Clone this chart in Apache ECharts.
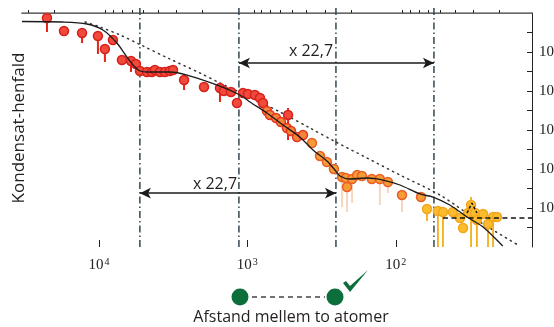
<!DOCTYPE html>
<html><head><meta charset="utf-8">
<script src="https://cdn.jsdelivr.net/npm/echarts@6/dist/echarts.min.js"></script>
<style>html,body{margin:0;padding:0;background:#fff}#c{width:554px;height:327px}</style>
</head><body><div id="c"></div>
<script>
// ---------- data (distance between atoms on reversed log x, condensate decay on log y) ----------
const distRange = [12.08, 33000];
const decayRange = [1e-6, 1];
const xMajorExp = [2, 3, 4];
const yMajorExp = [-5, -4, -3, -2, -1];

const redDist  = [22400,17200,13000,10160,9120,8050,7000,6080,5640,5290,4750,4400,4200,3880,3590,3330,3170,2670,1960,1530,1440,1290,1175,1070,991,889,822,785,532];
const redDecay = [0.744,0.345,0.307,0.257,0.119,0.203,0.0624,0.0588,0.0492,0.0326,0.0307,0.0307,0.0345,0.0307,0.0307,0.0326,0.0345,0.0191,0.01267,0.01194,0.01,0.00942,0.00492,0.00889,0.00838,0.00789,0.00662,0.00492,0.00243];

const redOrangeDist  = [738,705,641,594,541,508,463,422];
const redOrangeDecay = [0.00307,0.00243,0.00203,0.0016,0.00112,0.000942,0.000662,0.000745];

const orangeDist  = [367,324,291,261,230,217,213,197,182,169,145,128,113,90.8,67.6];
const orangeDecay = [0.000464,0.000215,0.000151,0.0001,6.24e-5,5.87e-5,3.45e-5,5.54e-5,7.0e-5,6.62e-5,5.54e-5,5.54e-5,4.64e-5,2.15e-5,1.91e-5];

const yellowDist  = [61.6,52.0,48.1,41.2,36.9,35.2,32.6,31.1,29.2,28.4,25.8,23.9,22.1,20.8];
const yellowDecay = [9.42e-6,8.38e-6,7.89e-6,7.89e-6,5.54e-6,3.07e-6,7.44e-6,1.19e-5,7.44e-6,4.92e-6,7.01e-6,3.89e-6,5.88e-6,5.88e-6];

const redErrDist = [22400,13000,10160,9120,8050,6080,2670,1530,532];
const redErrLow  = [0.326,0.170,0.0889,0.0554,0.151,0.0307,0.0106,0.00522,0.000554];
const redErrHigh = [0.744,0.307,0.257,0.119,0.203,0.0745,0.0191,0.016,0.00366];

const paleErrDist = [230,213,197,128,113,90.8];
const paleErrLow  = [1.06e-5,7.9e-6,1.34e-5,1.19e-5,2.43e-5,7.9e-6];
const paleErrHigh = [6.24e-5,3.45e-5,5.54e-5,5.54e-5,4.64e-5,2.15e-5];

const yellowErrDist = [61.6,52.0,48.1,31.1,28.4,23.9,22.1];
const yellowErrLow  = [4.64e-6,1e-6,1e-6,1e-6,1e-6,1e-6,1e-6];
const yellowErrHigh = [9.42e-6,8.38e-6,7.89e-6,1.91e-5,4.92e-6,3.89e-6,5.88e-6];

const fitDist  = [33000,17500,12050,9400,7570,6480,5720,5290,4750,3330,2550,1530,1120,960,738,575,443,361,291,257,238,204,156,122,93.7,68.7,56.1,43.2,33.1,25.8,19.0];
const fitDecay = [0.605,0.588,0.522,0.366,0.170,0.0745,0.0412,0.0326,0.0307,0.0307,0.0257,0.0134,0.00789,0.00522,0.00273,0.00134,0.000662,0.000307,0.00016,9.42e-5,6.62e-5,5.54e-5,5.87e-5,5.22e-5,3.89e-5,2.29e-5,1.91e-5,1.19e-5,5.88e-6,3.26e-6,1.06e-6];

const powDist  = [12400,9840,7210,5210,3330,2090,1530,960,603,378,253,156,93.7,50.4,27.1,14.6];
const powDecay = [0.588,0.438,0.273,0.151,0.0662,0.029,0.016,0.00702,0.0029,0.00112,0.000492,0.000191,7.0e-5,2.15e-5,4.38e-6,1.06e-6];

const noiseDist = [48.1, 12.08];
const noiseDecay = [5.54e-6, 5.54e-6];
const peakDist = [33.1, 30.7, 28.4];
const peakDecay = [7.44e-6, 1.34e-5, 7.44e-6];

const markerDist = [5300, 1140, 253, 55.3];
const markerSpan = [1e-6, 1.34];
const arrowUpper = {from: 1140, to: 55.3, decay: 0.0522};
const arrowLower = {from: 5300, to: 253, decay: 2.4e-5};
const ratioLabel = 'x 22,7';

// ---------- build ----------
const L = Math.log10;
const pairs = (xs, ys) => xs.map((x, i) => [L(x), L(ys[i])]);
const errs = (xs, lo, hi) => xs.map((x, i) => [L(x), L(lo[i]), L(hi[i])]);

const minorTicks = [];
for (let d = 1; d <= 4; d++) for (let m = 2; m <= 9; m++) {
  const v = L(m) + d;
  if (v > L(distRange[0]) && v < L(distRange[1])) minorTicks.push(v);
}
const yTicks = [];
for (let v = -5.5; v <= -0.5; v += 0.5) yTicks.push(v);

const serif = 'Liberation Serif';
const supRich = {
  b: {fontFamily: serif, fontSize: 15, color: '#222', lineHeight: 16},
  s: {fontFamily: serif, fontSize: 10, color: '#222', lineHeight: 9, verticalAlign: 'top', padding: [0, 0, 0, 1]}
};

const xBase = {
  type: 'value', min: L(distRange[0]), max: L(distRange[1]), inverse: true,
  gridIndex: 0, splitLine: {show: false}
};

function errRender(color, width) {
  return function (params, api) {
    const p1 = api.coord([api.value(0), api.value(1)]);
    const p2 = api.coord([api.value(0), api.value(2)]);
    return {type: 'line', shape: {x1: p1[0], y1: p1[1], x2: p2[0], y2: p2[1]},
      style: {stroke: color, lineWidth: width}};
  };
}
function scatter(name, xs, ys, fill, border) {
  return {type: 'scatter', name, data: pairs(xs, ys), symbol: 'circle', symbolSize: 9, z: 5,
    itemStyle: {color: fill, borderColor: border, borderWidth: 1.5, opacity: 1}};
}

const series = [
  {type: 'line', name: 'power', data: pairs(powDist, powDecay), smooth: 0.3, symbol: 'none', z: 2,
    lineStyle: {color: '#333', width: 1.5, type: [1.2, 4.5], cap: 'round'}},
  ...markerDist.map(d => ({type: 'line', data: [[L(d), L(markerSpan[0])], [L(d), L(markerSpan[1])]],
    symbol: 'none', clip: false, z: 1,
    lineStyle: {color: '#34484f', width: 1.5, type: [7, 3, 1.5, 3]}})),
  {type: 'custom', name: 'errRed', data: errs(redErrDist, redErrLow, redErrHigh), renderItem: errRender('#e3231c', 2), z: 3, encode: {x: 0, y: [1, 2]}},
  {type: 'custom', name: 'errPale', data: errs(paleErrDist, paleErrLow, paleErrHigh), renderItem: errRender('rgba(240,180,140,0.55)', 2), z: 3, encode: {x: 0, y: [1, 2]}},
  {type: 'custom', name: 'errYellow', data: errs(yellowErrDist, yellowErrLow, yellowErrHigh), renderItem: errRender('#f4ae16', 1.8), z: 3, encode: {x: 0, y: [1, 2]}},
  scatter('red', redDist, redDecay, '#f04a3c', '#d8211a'),
  scatter('redOrange', redOrangeDist, redOrangeDecay, '#f5843a', '#e5381f'),
  scatter('orange', orangeDist, orangeDecay, '#f69b35', '#ea5e27'),
  scatter('yellow', yellowDist, yellowDecay, '#fbbd2f', '#f4a51a'),
  {type: 'line', name: 'noise', data: pairs(noiseDist, noiseDecay), symbol: 'none', z: 6,
    lineStyle: {color: '#111', width: 1.5, type: [5, 3.5]}},
  {type: 'line', name: 'peak', data: pairs(peakDist, peakDecay), symbol: 'none', z: 6,
    lineStyle: {color: '#111', width: 1.5, type: [3, 2]}},
  {type: 'line', name: 'fit', data: pairs(fitDist, fitDecay), smooth: 0.3, symbol: 'none', z: 7,
    lineStyle: {color: '#1b1b1b', width: 1.3},
    markLine: {silent: true, symbol: ['arrow', 'arrow'], symbolSize: [8, 11], label: {show: false},
      lineStyle: {color: '#1b1b1b', width: 1.5, type: 'solid'},
      data: [
        [{coord: [L(arrowUpper.from), L(arrowUpper.decay)]}, {coord: [L(arrowUpper.to), L(arrowUpper.decay)]}],
        [{coord: [L(arrowLower.from), L(arrowLower.decay)]}, {coord: [L(arrowLower.to), L(arrowLower.decay)]}]
      ]}}
];

const chart = echarts.init(document.getElementById('c'), null, {renderer: 'canvas'});
chart.setOption({
  animation: false,
  backgroundColor: '#fff',
  grid: {left: 22, right: 22, top: 13, bottom: 80, containLabel: false, outerBoundsMode: 'none'},
  xAxis: [
    Object.assign({}, xBase, {position: 'bottom',
      axisLine: {show: true, lineStyle: {color: '#222', width: 1}},
      axisTick: {show: true, inside: true, length: 3, customValues: minorTicks, lineStyle: {color: '#222', width: 1}},
      axisLabel: {show: true, customValues: xMajorExp, margin: 10, rich: supRich,
        formatter: v => '{b|10}{s|' + Math.round(v) + '}'}}),
    Object.assign({}, xBase, {position: 'bottom',
      axisLine: {show: false},
      axisTick: {show: true, inside: true, length: 7, customValues: xMajorExp, lineStyle: {color: '#222', width: 1}},
      axisLabel: {show: false}}),
    Object.assign({}, xBase, {position: 'top',
      axisLine: {show: true, lineStyle: {color: '#7d7d7d', width: 1.6}},
      axisTick: {show: false}, axisLabel: {show: false}})
  ],
  yAxis: [{
    type: 'value', min: L(decayRange[0]), max: L(decayRange[1]), position: 'right',
    splitLine: {show: false},
    axisLine: {show: true, lineStyle: {color: '#222', width: 1}},
    axisTick: {show: true, inside: true, length: 5, customValues: yTicks, lineStyle: {color: '#222', width: 1}},
    axisLabel: {show: true, customValues: yMajorExp, margin: 7, rich: supRich,
      formatter: v => '{b|10}{s|\u2212' + Math.abs(Math.round(v)) + '}'}
  }],
  series,
  graphic: [
    {type: 'text', x: 19, y: 128, rotation: Math.PI / 2, z: 10,
      style: {text: 'Kondensat-henfald', font: '17px "Open Sans"', fill: '#231f20', align: 'center', verticalAlign: 'middle'}},
    {type: 'text', x: 311, y: 51, z: 10,
      style: {text: ratioLabel, font: '16px "Open Sans"', fill: '#231f20', align: 'center', verticalAlign: 'middle'}},
    {type: 'text', x: 215, y: 184, z: 10,
      style: {text: ratioLabel, font: '16px "Open Sans"', fill: '#231f20', align: 'center', verticalAlign: 'middle'}},
    {type: 'line', shape: {x1: 252, y1: 297, x2: 325, y2: 297}, z: 10,
      style: {stroke: '#444', lineWidth: 1.3, lineDash: [5, 4]}},
    {type: 'circle', shape: {cx: 240, cy: 297, r: 8.5}, z: 11, style: {fill: '#0b6e3b'}},
    {type: 'circle', shape: {cx: 335, cy: 297, r: 8.5}, z: 11, style: {fill: '#0b6e3b'}},
    {type: 'polygon', z: 11, shape: {points: [[343, 283], [346, 281], [350, 286], [368, 270], [350, 292]]},
      style: {fill: '#0b6e3b'}},
    {type: 'text', x: 291, y: 317, z: 10,
      style: {text: 'Afstand mellem to atomer', font: '16px "Open Sans"', fill: '#231f20', align: 'center', verticalAlign: 'middle'}}
  ]
});
</script>
</body></html>
